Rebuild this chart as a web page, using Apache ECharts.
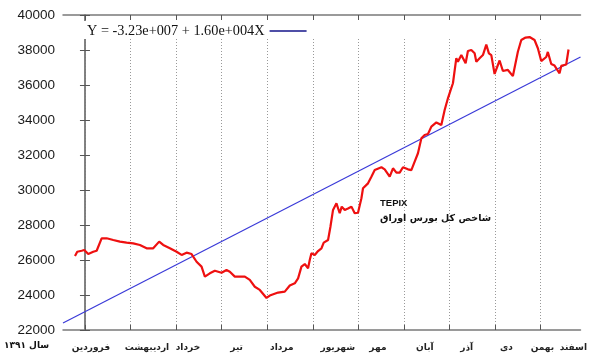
<!DOCTYPE html>
<html>
<head>
<meta charset="utf-8">
<script src="https://cdn.jsdelivr.net/npm/echarts@6/dist/echarts.min.js"></script>
<style>html,body{margin:0;padding:0;background:#fff}#c{width:590px;height:358px}</style>
</head>
<body>
<div id="c"></div>
<script>
// Month names (x tick labels), month boundaries at integer positions
const monthNames = ['فروردین','اردیبهشت','خرداد','تیر','مرداد','شهریور','مهر','آبان','آذر','دی','بهمن','اسفند'];
const monthLabelAt = [0.13,1.36,2.26,3.33,4.32,5.55,6.43,7.46,8.38,9.25,10.04,10.72];
const monthTicks = [0,1,2,3,4,5,6,7,8,9,10];
const yearLabel = 'سال ۱۳۹۱';
// TEPIX index: x = months since start of Farvardin, y = index value
const tepixX = [-0.219,-0.169,-0.072,-0.015,0.072,0.182,0.257,0.366,0.476,0.621,0.768,0.914,1.059,1.206,1.353,1.498,1.629,1.717,1.864,2.011,2.121,2.230,2.340,2.450,2.559,2.632,2.741,2.851,2.998,3.107,3.180,3.289,3.509,3.618,3.728,3.838,3.985,4.057,4.239,4.386,4.496,4.605,4.678,4.752,4.825,4.897,4.934,4.971,5.044,5.116,5.191,5.241,5.336,5.388,5.445,5.520,5.592,5.636,5.702,5.774,5.849,5.921,5.993,6.068,6.103,6.213,6.287,6.360,6.507,6.579,6.689,6.761,6.836,6.908,6.980,7.090,7.164,7.237,7.309,7.384,7.456,7.529,7.603,7.713,7.822,7.895,7.967,8.026,8.077,8.151,8.186,8.261,8.296,8.355,8.406,8.480,8.553,8.590,8.662,8.735,8.809,8.866,8.919,8.991,9.101,9.173,9.283,9.320,9.393,9.430,9.502,9.577,9.671,9.759,9.868,9.941,10.015,10.125,10.160,10.235,10.307,10.417,10.454,10.563,10.614];
const tepixY = [26230,26470,26530,26570,26340,26470,26530,27240,27240,27140,27050,26990,26950,26860,26670,26670,27050,26860,26670,26470,26290,26420,26340,25900,25620,25050,25240,25390,25270,25430,25330,25050,25050,24860,24470,24290,23830,23970,24140,24190,24540,24670,24950,25620,25770,25530,26000,26380,26290,26510,26670,26990,27140,27900,28860,29240,28670,29050,28860,28940,29050,28670,28700,29530,30100,30380,30760,31140,31300,31180,30760,31240,30990,30990,31300,31180,31140,31620,32100,32950,33140,33200,33620,33860,33710,34570,35240,35710,36100,37530,37330,37710,37770,37240,37940,38000,37810,37330,37530,37710,38310,37810,37710,36630,37400,36800,36860,36830,36510,36470,37900,38570,38710,38740,38570,38100,37370,37600,37890,37200,37110,36670,37090,37170,38030];
// Linear fit line endpoints
const fitName = 'Y = -3.23e+007 + 1.60e+004X';
const fitX = [-0.482, 10.877];
const fitY = [22400, 37600];
const xMin = -0.482, xMax = 10.877;
const yMin = 22000, yMax = 40000, yStep = 2000;
const noteTitle = 'TEPIX';
const noteSub = 'شاخص کل بورس اوراق';

const labelMap = {};
monthLabelAt.forEach((v, i) => { labelMap[v.toFixed(3)] = monthNames[i]; });
const evenVals = monthLabelAt.filter((v, i) => i % 2 === 0);
const oddVals = monthLabelAt.filter((v, i) => i % 2 === 1);

const chart = echarts.init(document.getElementById('c'), null, {renderer: 'canvas'});
const frame = {color: '#7a7a7a', width: 1.5};
const monthLabel = vals => ({show: true, customValues: vals, margin: 13, showMinLabel: true, showMaxLabel: true, hideOverlap: false,
  fontFamily: 'DejaVu Sans', fontWeight: 'bold', fontSize: 9, color: '#222',
  formatter: v => labelMap[Number(v).toFixed(3)] || ''});
chart.setOption({
  animation: false,
  backgroundColor: '#fff',
  grid: {left: 63, right: 9, top: 15, bottom: 28, containLabel: false},
  legend: {
    show: true, left: 87, top: 24, padding: 0, align: 'right',
    itemWidth: 37, itemHeight: 1.5, itemGap: 6,
    textStyle: {fontFamily: 'Liberation Serif', fontSize: 14.3, color: '#111'},
    data: [{name: fitName, icon: 'rect', itemStyle: {color: '#14148a'}}]
  },
  xAxis: [{
    type: 'value', min: xMin, max: xMax, position: 'bottom',
    axisLine: {show: true, lineStyle: frame},
    axisTick: {show: true, inside: true, length: 5, customValues: monthTicks, lineStyle: {color: '#555', width: 1}},
    splitLine: {show: true, lineStyle: {color: '#999', type: [1, 2], width: 1}},
    axisLabel: monthLabel(evenVals)
  }, {
    type: 'value', min: xMin, max: xMax, position: 'bottom', offset: 0,
    axisLine: {show: false}, axisTick: {show: false}, splitLine: {show: false},
    axisLabel: monthLabel(oddVals)
  }, {
    type: 'value', min: xMin, max: xMax, position: 'top',
    axisLine: {show: true, lineStyle: frame},
    axisTick: {show: true, inside: true, length: 5, customValues: monthTicks, lineStyle: {color: '#555', width: 1}},
    splitLine: {show: false}, axisLabel: {show: false}
  }],
  yAxis: [{
    type: 'value', min: yMin, max: yMax, interval: yStep, position: 'left',
    axisLine: {show: true, lineStyle: frame},
    axisTick: {show: true, inside: true, length: 5, lineStyle: {color: '#555', width: 1}},
    splitLine: {show: false},
    axisLabel: {margin: 8, fontFamily: 'Liberation Sans', fontSize: 13.5, color: '#1a1a1a', formatter: v => String(v)}
  }, {
    type: 'value', min: yMin, max: yMax, interval: yStep, position: 'right',
    axisLine: {show: true, lineStyle: frame},
    axisTick: {show: true, inside: true, length: 5, lineStyle: {color: '#555', width: 1}},
    splitLine: {show: false}, axisLabel: {show: false}
  }],
  graphic: [
    {type: 'rect', z: 1, shape: {x: 64, y: 21, width: 516, height: 18}, style: {fill: '#fff'}},
    {type: 'text', left: 380, top: 198, z: 5, style: {text: noteTitle, fontFamily: 'Liberation Sans', fontWeight: 'bold', fontSize: 9.5, fill: '#111'}},
    {type: 'text', left: 380, top: 214, z: 5, style: {text: noteSub, fontFamily: 'DejaVu Sans', fontWeight: 'bold', fontSize: 9.5, fill: '#111'}},
    {type: 'text', left: 4, top: 341, z: 5, style: {text: yearLabel, fontFamily: 'DejaVu Sans', fontWeight: 'bold', fontSize: 9, fill: '#111'}}
  ],
  series: [{
    name: 'TEPIX', type: 'line', xAxisIndex: 0, yAxisIndex: 0, z: 3,
    data: tepixX.map((x, i) => [x, tepixY[i]]),
    symbol: 'none', lineStyle: {color: '#ee1010', width: 2.2}, itemStyle: {color: '#ee1010'}
  }, {
    name: fitName, type: 'line', xAxisIndex: 0, yAxisIndex: 0, z: 2,
    data: fitX.map((x, i) => [x, fitY[i]]),
    symbol: 'none', lineStyle: {color: '#3a3ad8', width: 1.2}, itemStyle: {color: '#14148a'}
  }]
});
</script>
</body>
</html>
